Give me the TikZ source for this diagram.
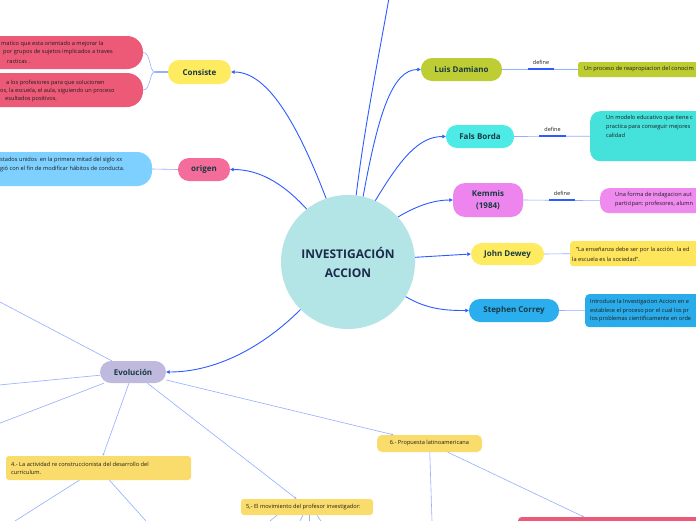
\documentclass[tikz,border=0pt]{standalone}
\usepackage{fontspec}
\setmainfont{Open Sans}
\usetikzlibrary{arrows.meta,calc}
\definecolor{cencol}{HTML}{B3E5E6}
\definecolor{centxt}{HTML}{1B2A4A}
\definecolor{titletxt}{HTML}{173A42}
\definecolor{smalltxt}{HTML}{1E1E1E}
\definecolor{linkblue}{HTML}{2D5BFF}
\definecolor{lightlink}{HTML}{93AFFF}
\definecolor{yel}{HTML}{FFEB5F}
\definecolor{yelbox}{HTML}{FFE55C}
\definecolor{pinkorig}{HTML}{F46C9A}
\definecolor{redbox}{HTML}{EC5A78}
\definecolor{skybox}{HTML}{7DD0FF}
\definecolor{lav}{HTML}{BFB9DE}
\definecolor{muty}{HTML}{F9DC6B}
\definecolor{ldgreen}{HTML}{BFCD35}
\definecolor{ldbox}{HTML}{BDCC30}
\definecolor{fbcol}{HTML}{4EEAE6}
\definecolor{fbbox}{HTML}{44E2DA}
\definecolor{kmcol}{HTML}{EE85EE}
\definecolor{kmbox}{HTML}{EF8BEF}
\definecolor{sccol}{HTML}{2BAEEE}
\definecolor{scbox}{HTML}{2AABEA}
\tikzset{
  titlenode/.style={rectangle, rounded corners=11pt, font=\fontsize{8}{12}\selectfont\bfseries, text=titletxt, inner sep=0pt, minimum height=23pt, align=center},
  boxnode/.style={rectangle, inner sep=0pt},
  smalltext/.style={font=\fontsize{5.65}{6.5}\selectfont, text=smalltxt, inner sep=0pt, anchor=west},
  deflabel/.style={font=\fontsize{5.5}{6.5}\selectfont, text=smalltxt, inner sep=0pt},
  mainlink/.style={draw=linkblue, line width=0.9pt, -{Triangle[length=3.5pt,width=3.5pt]}},
  mainplain/.style={draw=linkblue, line width=0.9pt},
  sublink/.style={draw=lightlink, line width=0.6pt},
  subarrow/.style={draw=lightlink, line width=0.6pt, -{Triangle[length=2pt,width=2pt]}},
  defbar/.style={draw=linkblue, line width=1.3pt}
}
\begin{document}
\begin{tikzpicture}[x=1pt,y=-1pt]
\useasboundingbox (0,0) rectangle (696,520);
\fill[white] (0,0) rectangle (696,520);

% ---------- boxes ----------
\node[boxnode, fill=redbox, rounded corners=16pt, minimum width=303pt, minimum height=33pt] (red1) at (-8.5,52.5) {};
\node[boxnode, fill=redbox, rounded corners=16pt, minimum width=303pt, minimum height=34pt] (red2) at (-8.5,90) {};
\node[boxnode, fill=skybox, rounded corners=15pt, minimum width=312pt, minimum height=34pt] (sky) at (-4,169) {};
\node[boxnode, fill=muty, rounded corners=3pt, minimum width=185pt, minimum height=24pt] (box4) at (98.5,468) {};
\node[boxnode, fill=muty, rounded corners=3pt, minimum width=132pt, minimum height=16pt] (box5) at (307,507) {};
\node[boxnode, fill=muty, rounded corners=5pt, minimum width=105pt, minimum height=17pt, font=\fontsize{5.65}{6.5}\selectfont, text=smalltxt] (box6) at (429.5,443.5) {6.- Propuesta latinoamericana};
\node[boxnode, fill=redbox, rounded corners=3pt, minimum width=280pt, minimum height=40pt, anchor=north west] (redb) at (518,517) {};
\node[boxnode, fill=ldbox, rounded corners=2pt, minimum width=200pt, minimum height=15pt, anchor=west] (gbox) at (578,69.5) {};
\node[boxnode, fill=fbbox, rounded corners=10pt, minimum width=200pt, minimum height=50pt, anchor=north west] (fbx) at (590,111) {};
\node[boxnode, fill=kmbox, rounded corners=9pt, minimum width=200pt, minimum height=25pt, anchor=north west] (kmx) at (600,188) {};
\node[boxnode, fill=yelbox, rounded corners=3pt, minimum width=200pt, minimum height=25pt, anchor=north west] (jdx) at (570,241) {};
\node[boxnode, fill=scbox, rounded corners=4pt, minimum width=200pt, minimum height=33pt, anchor=north west] (scx) at (585,294) {};

% ---------- box texts ----------
\node[smalltext] (t1a) at (1,44) {matico que esta orientado a mejorar la};
\node[smalltext] (t1b) at (3,52.5) {por grupos de sujetos implicados a traves};
\node[smalltext] (t1c) at (7,61) {racticas .};
\node[smalltext] (t2a) at (6,82.7) {a los profesiores para que solucionen};
\node[smalltext] (t2b) at (0,91) {os, la escuela, el aula, siguiendo un proceso};
\node[smalltext] (t2c) at (5,99.5) {esultados positivos.};
\node[smalltext] (t3a) at (0,160.5) {stados unidos\ \ en la primera mitad del siglo xx};
\node[smalltext] (t3b) at (0,169.2) {gió con el fin de modificar hábitos de conducta.};
\node[smalltext] (t4a) at (11,464.3) {4.- La actividad re construccionista del desarrollo del};
\node[smalltext] (t4b) at (11,472.8) {curriculum.};
\node[smalltext] (t5) at (246,507.5) {5,- El movimiento del profesor investigador:};
\node[smalltext] (tg) at (584,69.5) {Un proceso de reapropiacion del conocim};
\node[smalltext] (tfa) at (606,118.5) {Un modelo educativo que tiene c};
\node[smalltext] (tfb) at (606,127) {practica para conseguir mejores};
\node[smalltext] (tfc) at (606,135.7) {calidad};
\node[smalltext] (tka) at (615,195.5) {Una forma de indagacion aut};
\node[smalltext] (tkb) at (615,204) {participan: profesores, alumn};
\node[smalltext] (tja) at (576,250) {"La enseñanza debe ser por la acción. la ed};
\node[smalltext] (tjb) at (572,259.3) {la escuela es la sociedad".};
\node[smalltext] (tsa) at (590,302.3) {Introduce la Investigacion Accion en e};
\node[smalltext] (tsb) at (590,311) {establece el proceso por el cual los pr};
\node[smalltext] (tsc) at (590,319.5) {los problemas cientificamente en orde};

% ---------- centre and titles ----------
\node[circle, fill=cencol, minimum size=134pt, inner sep=0pt, font=\fontsize{12}{19}\selectfont\bfseries, text=centxt, align=center] (cen) at (348,262) {INVESTIGACIÓN\\ACCION};
\node[titlenode, fill=yel, minimum width=63pt, minimum height=24pt] (consiste) at (199.5,72) {Consiste};
\node[titlenode, fill=pinkorig, minimum width=52pt] (origen) at (204,169.5) {origen};
\node[titlenode, fill=lav, minimum width=66pt, minimum height=22pt] (evol) at (133,372) {Evolución};
\node[titlenode, fill=ldgreen, minimum width=81pt] (ld) at (461.5,69.5) {Luis Damiano};
\node[titlenode, fill=fbcol, minimum width=68pt] (fb) at (480,136.5) {Fals Borda};
\node[titlenode, fill=kmcol, minimum width=70pt, minimum height=34pt, rounded corners=12pt] (km) at (488,200) {Kemmis\\(1984)};
\node[titlenode, fill=yel, minimum width=73pt, minimum height=22pt] (jd) at (507.5,254) {John Dewey};
\node[titlenode, fill=sccol, minimum width=90pt] (sc) at (514,310.5) {Stephen Correy};

% ---------- main links ----------
\coordinate (topc) at (389,-2);
\draw[mainplain] (cen.83) .. controls (364,130) and (378,60) .. (topc);
\draw[mainlink] (cen.109) .. controls (298,125) and (268,72) .. (consiste.east);
\draw[mainlink] (cen.128.5) .. controls (282,182) and (258,169.5) .. (origen.east);
\draw[mainlink] (cen.225) .. controls (262,348) and (215,372) .. (evol.east);
\draw[mainlink] (cen.77) .. controls (378,115) and (392,69.5) .. (ld.west);
\draw[mainlink] (cen.66) .. controls (400,160) and (418,136.5) .. (fb.west);
\draw[mainlink] (cen.42) .. controls (418,205) and (435,200) .. (km.west);
\draw[mainlink] (cen.4) -- (jd.west);
\draw[mainlink] (cen.-31.5) .. controls (428,310) and (448,310.5) .. (sc.west);

% ---------- sub links ----------
\coordinate (cbr) at (155,72);
\draw[draw=lightlink, line width=1.8pt] (consiste.west) -- (cbr);
\draw[sublink] (cbr) .. controls (149,72) and (151,52.5) .. (red1.east);
\draw[sublink] (cbr) .. controls (149,72) and (151,90) .. (red2.east);
\draw[sublink] (sky.east) -- (origen.west);

\draw[sublink] (ld.east) -- (gbox.west);
\draw[sublink] (fb.east) -- (fbx.west);
\draw[sublink] (km.east) -- (kmx.west);
\draw[sublink] (jd.east) -- (jdx.west);
\draw[sublink] (sc.east) -- (scx.west);

\node[deflabel] (def1) at (541,62.5) {define};
\node[deflabel] (def2) at (552.5,129) {define};
\node[deflabel] (def3) at (562,193) {define};
\draw[defbar] ($(def1.center)+(-13,6.5)$) -- ($(def1.center)+(13,6.5)$);
\draw[defbar] ($(def2.center)+(-13.5,7)$) -- ($(def2.center)+(13.5,7)$);
\draw[defbar] ($(def3.center)+(-13,7)$) -- ($(def3.center)+(13,7)$);

% Evolucion branches
\coordinate (e1) at (-1,301.5);
\coordinate (e2) at (-1,385);
\coordinate (e3) at (-1,423.5);
\draw[sublink] (evol) -- (e1);
\draw[sublink] (evol) -- (e2);
\draw[sublink] (evol) -- (e3);
\draw[subarrow] (evol) -- (box4);
\draw[subarrow] (evol) -- (box5);
\draw[subarrow] (evol) -- (box6);

% box 4 branches
\coordinate (c4a) at (15,521);
\coordinate (c4b) at (146,521);
\draw[sublink] (box4) -- (c4a);
\draw[sublink] (box4) -- (c4b);

% box 5 branches
\coordinate (c5a) at (270,521);
\coordinate (c5b) at (300,521);
\coordinate (c5c) at (309,521);
\coordinate (c5d) at (321,521);
\draw[sublink] ([xshift=-30pt]box5.south) -- (c5a);
\draw[sublink] ([xshift=-4pt]box5.south) -- (c5b);
\draw[sublink] ([xshift=2pt]box5.south) -- (c5c);
\draw[sublink] ([xshift=10pt]box5.south) -- (c5d);

% box 6 branches
\coordinate (c6a) at (432,521);
\draw[sublink] (box6) -- (c6a);
\draw[subarrow] (box6) -- ([xshift=66pt]redb.north west);
\end{tikzpicture}
\end{document}
